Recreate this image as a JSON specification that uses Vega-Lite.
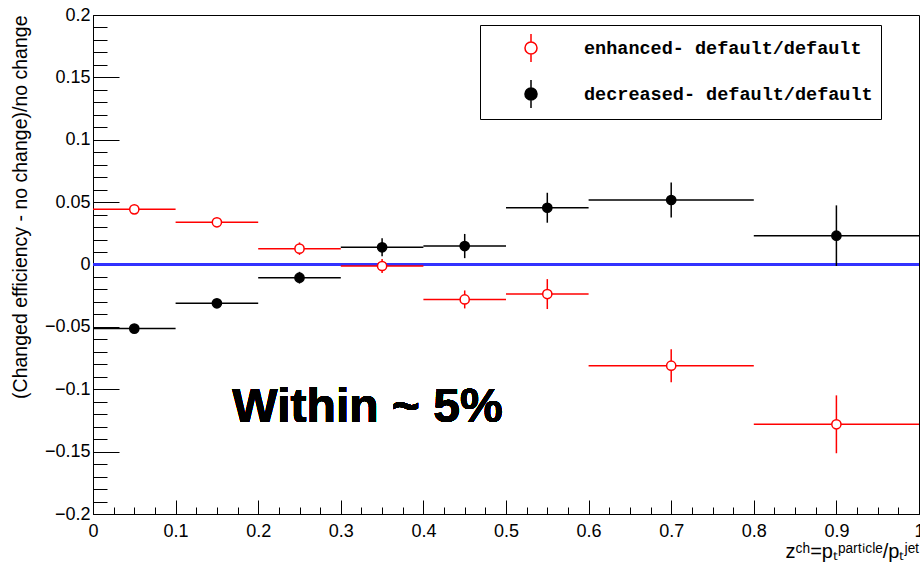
{
  "$schema": "https://vega.github.io/schema/vega-lite/v6.json",
  "width": 826,
  "height": 499,
  "autosize": {"type": "none"},
  "padding": {"left": 93, "top": 15, "right": 1, "bottom": 61},
  "background": "white",
  "config": {
    "view": {"stroke": "black", "strokeWidth": 1},
    "font": "Liberation Sans",
    "axis": {
      "domainColor": "black",
      "tickColor": "black",
      "labelColor": "black",
      "titleColor": "black",
      "labelFont": "Liberation Sans",
      "titleFont": "Liberation Sans",
      "labelFontSize": 18,
      "titleFontSize": 17,
      "titleFontWeight": "normal",
      "labelOverlap": false,
      "grid": false
    }
  },
  "data": {
    "values": [
      {"series": "enhanced- default/default", "x": 0.05, "x0": 0.0, "x1": 0.1, "y": 0.0442, "ylo": 0.0425, "yhi": 0.0459},
      {"series": "enhanced- default/default", "x": 0.15, "x0": 0.1, "x1": 0.2, "y": 0.0338, "ylo": 0.032, "yhi": 0.0356},
      {"series": "enhanced- default/default", "x": 0.25, "x0": 0.2, "x1": 0.3, "y": 0.0127, "ylo": 0.0077, "yhi": 0.0177},
      {"series": "enhanced- default/default", "x": 0.35, "x0": 0.3, "x1": 0.4, "y": -0.0012, "ylo": -0.0068, "yhi": 0.0044},
      {"series": "enhanced- default/default", "x": 0.45, "x0": 0.4, "x1": 0.5, "y": -0.028, "ylo": -0.0352, "yhi": -0.0208},
      {"series": "enhanced- default/default", "x": 0.55, "x0": 0.5, "x1": 0.6, "y": -0.0237, "ylo": -0.0357, "yhi": -0.0117},
      {"series": "enhanced- default/default", "x": 0.7, "x0": 0.6, "x1": 0.8, "y": -0.0811, "ylo": -0.0943, "yhi": -0.0679},
      {"series": "enhanced- default/default", "x": 0.9, "x0": 0.8, "x1": 1.0, "y": -0.1281, "ylo": -0.1513, "yhi": -0.1049},
      {"series": "decreased- default/default", "x": 0.05, "x0": 0.0, "x1": 0.1, "y": -0.0514, "ylo": -0.053, "yhi": -0.0498},
      {"series": "decreased- default/default", "x": 0.15, "x0": 0.1, "x1": 0.2, "y": -0.0311, "ylo": -0.0326, "yhi": -0.0296},
      {"series": "decreased- default/default", "x": 0.25, "x0": 0.2, "x1": 0.3, "y": -0.0106, "ylo": -0.0153, "yhi": -0.0059},
      {"series": "decreased- default/default", "x": 0.35, "x0": 0.3, "x1": 0.4, "y": 0.0138, "ylo": 0.0066, "yhi": 0.021},
      {"series": "decreased- default/default", "x": 0.45, "x0": 0.4, "x1": 0.5, "y": 0.0148, "ylo": 0.0051, "yhi": 0.0245},
      {"series": "decreased- default/default", "x": 0.55, "x0": 0.5, "x1": 0.6, "y": 0.0455, "ylo": 0.0335, "yhi": 0.0575},
      {"series": "decreased- default/default", "x": 0.7, "x0": 0.6, "x1": 0.8, "y": 0.0517, "ylo": 0.0377, "yhi": 0.0657},
      {"series": "decreased- default/default", "x": 0.9, "x0": 0.8, "x1": 1.0, "y": 0.0231, "ylo": -0.0012, "yhi": 0.0474}
    ]
  },
  "layer": [
    {
      "mark": {"type": "rule", "color": "#3333ff", "strokeWidth": 1.6},
      "encoding": {
        "y": {"datum": 0, "type": "quantitative", "scale": {"domain": [-0.2, 0.2], "nice": false, "zero": false},
          "axis": {
            "values": [-0.2,-0.19,-0.18,-0.17,-0.16,-0.15,-0.14,-0.13,-0.12,-0.11,-0.1,-0.09,-0.08,-0.07,-0.06,-0.05,-0.04,-0.03,-0.02,-0.01,0,0.01,0.02,0.03,0.04,0.05,0.06,0.07,0.08,0.09,0.1,0.11,0.12,0.13,0.14,0.15,0.16,0.17,0.18,0.19,0.2],
            "tickCount": 200,
            "format": "~g",
            "labelExpr": "abs(round(datum.value*100)) % 5 == 0 ? datum.label : ''",
            "tickSize": {"condition": {"test": "abs(round(datum.value*100)) % 5 == 0", "value": -26}, "value": -14},
            "labelPadding": 29,
            "title": "(Changed efficiency - no change)/no change",
            "titleFontSize": 19.5,
            "titleAnchor": "end",
            "titleAngle": -90,
            "titleAlign": "right",
            "titleBaseline": "middle",
            "titleX": -73,
            "titleY": 0
          }
        }
      }
    },
    {
      "mark": {"type": "rule", "strokeWidth": 1.5},
      "encoding": {
        "x": {"field": "x0", "type": "quantitative", "scale": {"domain": [0, 1], "nice": false},
          "axis": {
            "values": [0,0.025,0.05,0.075,0.1,0.125,0.15,0.175,0.2,0.225,0.25,0.275,0.3,0.325,0.35,0.375,0.4,0.425,0.45,0.475,0.5,0.525,0.55,0.575,0.6,0.625,0.65,0.675,0.7,0.725,0.75,0.775,0.8,0.825,0.85,0.875,0.9,0.925,0.95,0.975,1],
            "tickCount": 200,
            "format": "~g",
            "labelExpr": "round(datum.value*1000) % 100 == 0 ? datum.label : ''",
            "tickSize": {"condition": {"test": "round(datum.value*1000) % 100 == 0", "value": -14}, "value": -7},
            "labelPadding": 22,
            "labelFlush": false,
            "title": "zᶜʰ=pₜᵖᵃʳᵗⁱᶜˡᵉ/pₜʲᵉᵗ",
            "titleFontSize": 20,
            "titleAnchor": "end",
            "titleAlign": "right",
            "titleBaseline": "alphabetic",
            "titleX": 826,
            "titleY": 43
          }
        },
        "x2": {"field": "x1"},
        "y": {"field": "y", "type": "quantitative"},
        "stroke": {"field": "series", "type": "nominal", "title": null, "scale": {"domain": ["enhanced- default/default", "decreased- default/default"], "range": ["#ff0000", "#000000"]}}
      }
    },
    {
      "mark": {"type": "rule", "strokeWidth": 1.5},
      "encoding": {
        "x": {"field": "x", "type": "quantitative"},
        "y": {"field": "ylo", "type": "quantitative"},
        "y2": {"field": "yhi"},
        "stroke": {"field": "series", "type": "nominal", "title": null}
      }
    },
    {
      "mark": {"type": "point", "filled": false, "strokeWidth": 1.5, "size": 85, "opacity": 1},
      "encoding": {
        "x": {"field": "x", "type": "quantitative"},
        "y": {"field": "y", "type": "quantitative"},
        "stroke": {"field": "series", "type": "nominal", "title": null,
          "legend": {
            "orient": "none", "legendX": 387, "legendY": 10,
            "strokeColor": "black", "padding": 8,
            "symbolType": "M-0.43,0 A0.43,0.43 0 1,1 0.43,0 A0.43,0.43 0 1,1 -0.43,0 Z M0,-1 L0,-0.43 M0,0.43 L0,1",
            "symbolSize": 784, "symbolStrokeWidth": 1.5, "symbolOffset": 28,
            "labelFont": "Liberation Mono", "labelFontWeight": "bold", "labelFontSize": 18.5,
            "labelColor": "black", "labelOffset": 38, "rowPadding": 12, "labelLimit": 0,
            "labelExpr": "datum.label + '\u00a0'"
          }
        },
        "fill": {"field": "series", "type": "nominal", "title": null, "scale": {"domain": ["enhanced- default/default", "decreased- default/default"], "range": ["#ffffff", "#000000"]}}
      }
    },
    {
      "mark": {"type": "text", "text": "Within ~ 5%", "font": "Liberation Sans", "fontWeight": "bold", "fontSize": 48, "align": "center", "baseline": "alphabetic", "color": "black"},
      "encoding": {
        "x": {"datum": 0.3323, "type": "quantitative"},
        "y": {"datum": -0.1265, "type": "quantitative"}
      }
    }
  ]
}
